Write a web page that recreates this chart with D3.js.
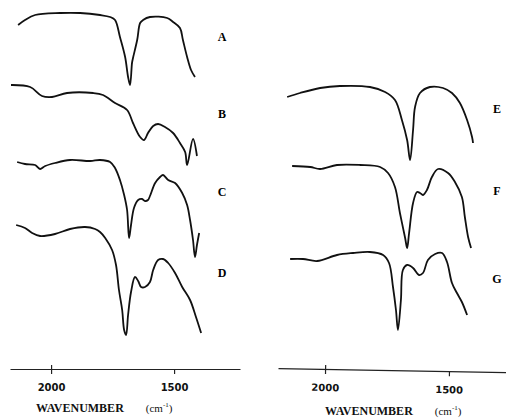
<!DOCTYPE html>
<html>
<head>
<meta charset="utf-8">
<script src="https://cdn.jsdelivr.net/npm/d3@7"></script>
<style>
  body { margin: 0; background: #fff; }
  svg { display: block; }
</style>
</head>
<body>
<div id="chart"></div>
<script>
// IR spectra, wavenumber (cm-1) vs relative transmittance (arbitrary units)
var labelsLeft = ["A", "B", "C", "D"];
var labelsRight = ["E", "F", "G"];
var tickValues = [2000, 1500];

// vertical stacking of the spectra
var offsetsLeft = [270, 190, 110, 20];
var offsetsRight = [200, 120, 30];

var specA = [[2134,74],[2106,79],[2065,84],[1963,86],[1882,86],[1801,84],[1760,82],[1740,79],[1720,62],[1699,42],[1687,22],[1679,14],[1671,36],[1667,41],[1650,59],[1638,76],[1626,79],[1598,82],[1528,81],[1504,77],[1476,71],[1464,59],[1447,42],[1431,29],[1415,22]];
var specB = [[2163,94],[2085,92],[2037,83],[1996,82],[1935,86],[1829,86],[1789,84],[1740,76],[1691,69],[1667,56],[1638,42],[1622,39],[1606,46],[1585,53],[1565,55],[1537,52],[1504,46],[1476,36],[1455,27],[1447,14],[1423,40],[1407,23]];
var specC = [[2138,97],[2106,95],[2065,94],[2045,90],[2024,93],[1984,96],[1923,99],[1841,98],[1801,99],[1760,97],[1740,91],[1720,79],[1703,64],[1691,49],[1683,21],[1675,34],[1663,51],[1646,59],[1630,60],[1618,58],[1606,59],[1598,63],[1577,76],[1557,82],[1545,84],[1524,79],[1496,76],[1467,66],[1447,54],[1435,39],[1423,19],[1415,2],[1407,14],[1398,26]];
var specD = [[2142,124],[2106,121],[2077,116],[2045,113],[1984,115],[1923,120],[1862,122],[1821,120],[1801,117],[1780,111],[1752,99],[1736,84],[1724,59],[1711,39],[1703,19],[1695,14],[1687,34],[1675,57],[1659,72],[1646,68],[1634,62],[1618,62],[1598,67],[1585,79],[1565,89],[1545,90],[1524,86],[1496,76],[1467,62],[1435,49],[1411,32],[1390,16]];
var specE = [[2153,72],[2101,76],[2020,81],[1940,83],[1819,82],[1758,77],[1718,69],[1690,49],[1669,29],[1657,9],[1645,39],[1637,62],[1617,76],[1577,82],[1524,81],[1488,76],[1456,66],[1427,49],[1407,32],[1403,26]];
var specF = [[2133,83],[2060,82],[2020,80],[1952,84],[1859,84],[1778,82],[1746,76],[1718,62],[1698,36],[1677,11],[1669,1],[1661,16],[1645,46],[1629,57],[1617,56],[1605,54],[1589,59],[1569,72],[1544,80],[1504,76],[1476,67],[1448,52],[1436,32],[1423,12],[1411,1]];
var specG = [[2141,80],[2089,80],[2032,78],[1952,84],[1887,86],[1819,87],[1766,84],[1742,76],[1726,52],[1714,29],[1706,9],[1694,39],[1686,69],[1669,74],[1645,71],[1621,64],[1605,66],[1585,79],[1556,85],[1528,86],[1508,77],[1488,56],[1468,46],[1448,37],[1427,24]];

var seriesLeft = [specA, specB, specC, specD];
var seriesRight = [specE, specF, specG];

var w = 506, h = 420;
var axisY = 369;

var svg = d3.select("#chart")
    .append("svg")
    .attr("width", w)
    .attr("height", h);

// one unit of transmittance = one pixel, stacked above the axis
var yScale = d3.scaleLinear()
    .domain([0, 360])
    .range([axisY, axisY - 360]);

var xLeft = d3.scaleLinear()
    .domain([2167, 1232])
    .range([10, 240]);

var xRight = d3.scaleLinear()
    .domain([2190, 1270])
    .range([278, 506]);

function drawPanel(xScale, series, offsets, labels, labelX, labelYs, axisRot, titleX, titleY) {
    var g = svg.append("g");

    series.forEach(function(d, i) {
        var line = d3.line()
            .x(function(p){ return xScale(p[0]); })
            .y(function(p){ return yScale(p[1] + offsets[i]); })
            .curve(d3.curveCatmullRom.alpha(0.5));
        g.append("path")
            .datum(d)
            .attr("d", line)
            .attr("fill", "none")
            .attr("stroke", "#111")
            .attr("stroke-width", 1.8)
            .attr("stroke-linejoin", "round");

        g.append("text")
            .attr("x", labelX)
            .attr("y", labelYs[i])
            .attr("text-anchor", "middle")
            .attr("dominant-baseline", "central")
            .attr("font-family", "Liberation Serif, serif")
            .attr("font-weight", "bold")
            .attr("font-size", 12)
            .text(labels[i]);
    });

    var axis = d3.axisBottom(xScale)
        .tickValues(tickValues)
        .tickSize(5)
        .tickSizeOuter(0)
        .tickPadding(10)
        .tickFormat(d3.format("d"));

    var ax = svg.append("g")
        .attr("transform", "translate(0," + axisY + ") rotate(" + axisRot + "," + xScale(2000) + ",0)")
        .call(axis);
    ax.select(".domain")
        .attr("stroke", "#222")
        .attr("stroke-width", 1.2);
    ax.selectAll(".tick line")
        .attr("stroke", "#222")
        .attr("stroke-width", 1.2)
        .attr("y1", function(d){ return d === 2000 ? -4 : 0; });
    ax.selectAll(".tick text")
        .attr("font-family", "DejaVu Sans, sans-serif")
        .attr("font-weight", "bold")
        .attr("font-size", 10)
        .attr("fill", "#111");

    var title = svg.append("text")
        .attr("x", titleX)
        .attr("y", titleY)
        .attr("font-family", "Liberation Serif, serif")
        .attr("font-size", 12)
        .attr("fill", "#111");
    title.append("tspan")
        .attr("font-weight", "bold")
        .text("WAVENUMBER");
    title.append("tspan")
        .attr("dx", 22)
        .attr("font-size", 11)
        .text("(cm");
    title.append("tspan")
        .attr("font-size", 7)
        .attr("dy", -5)
        .text("-1");
    title.append("tspan")
        .attr("font-size", 11)
        .attr("dy", 5)
        .text(")");
}

drawPanel(xLeft, seriesLeft, offsetsLeft, labelsLeft, 222, [37, 114, 192, 273], 0, 36, 412);
drawPanel(xRight, seriesRight, offsetsRight, labelsRight, 497, [109, 191, 279], 1, 325, 415);
</script>
</body>
</html>
